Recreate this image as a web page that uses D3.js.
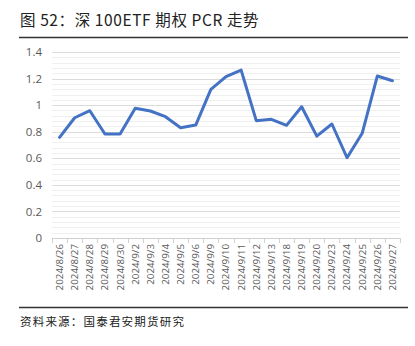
<!DOCTYPE html>
<html><head><meta charset="utf-8">
<script src="https://cdn.jsdelivr.net/npm/d3@7/dist/d3.min.js"></script>
<style>
html,body{margin:0;padding:0;background:#fff;}
svg{display:block;}
</style></head>
<body>
<svg id="c" width="415" height="346"></svg>
<script>
const categories = ["2024/8/26","2024/8/27","2024/8/28","2024/8/29","2024/8/30","2024/9/2","2024/9/3","2024/9/4","2024/9/5","2024/9/6","2024/9/9","2024/9/10","2024/9/11","2024/9/12","2024/9/13","2024/9/18","2024/9/19","2024/9/20","2024/9/23","2024/9/24","2024/9/25","2024/9/26","2024/9/27"];
const pcrValues = [0.758,0.905,0.958,0.783,0.783,0.976,0.956,0.913,0.830,0.850,1.119,1.214,1.264,0.883,0.893,0.848,0.988,0.767,0.858,0.604,0.788,1.219,1.184];
const yTicks = [0,0.2,0.4,0.6,0.8,1,1.2,1.4];
const titleText = "图 52：深 100ETF 期权 PCR 走势";
const sourceText = "资料来源：国泰君安期货研究";

const svg = d3.select("#c");
const m = {l:52, r:15, t:52, b:108};
const x = d3.scaleBand().domain(categories).range([m.l, 400]).padding(0);
const y = d3.scaleLinear().domain([0,1.4]).range([238, 52]);

// title
svg.append("text").attr("x",20).attr("y",26).text(titleText)
  .attr("font-family","'Noto Sans CJK SC', sans-serif").attr("font-size",15.5)
  .attr("letter-spacing",0.6).attr("fill","#222");
svg.append("line").attr("x1",19).attr("x2",408).attr("y1",37.5).attr("y2",37.5)
  .attr("stroke","#333").attr("stroke-width",1.5);

// minor gridlines
const minor = d3.range(0, 1.4001, 0.04).filter(v => Math.abs(v*5 - Math.round(v*5)) > 1e-6);
svg.append("g").selectAll("line").data(minor).join("line")
  .attr("x1", m.l).attr("x2", 400)
  .attr("y1", d => Math.round(y(d))+0.5).attr("y2", d => Math.round(y(d))+0.5)
  .attr("stroke","#f0f0f0").attr("stroke-width",1);
// major gridlines
svg.append("g").selectAll("line").data(yTicks.slice(1)).join("line")
  .attr("x1", m.l).attr("x2", 400)
  .attr("y1", d => Math.round(y(d))+0.5).attr("y2", d => Math.round(y(d))+0.5)
  .attr("stroke","#dcdcdc").attr("stroke-width",1);

// y axis labels
const yAxis = d3.axisLeft(y).tickValues(yTicks).tickSize(0).tickPadding(10).tickFormat(d3.format("~g"));
const gy = svg.append("g").attr("transform",`translate(${m.l},0)`).call(yAxis);
gy.select(".domain").remove();
gy.selectAll("text").attr("font-family","'Open Sans', 'Noto Sans', sans-serif").attr("font-size",11.5).attr("fill","#595959");

// x axis
const xAxis = d3.axisBottom(x).tickSize(0).tickPadding(0);
const gx = svg.append("g").attr("transform","translate(0,238)").call(xAxis);
gx.select(".domain").attr("stroke","#d0d0d0").attr("d", `M${m.l},0.5H400`);
gx.selectAll(".tick text")
  .attr("font-family","'Open Sans', 'Noto Sans', sans-serif").attr("font-size",9.8).attr("fill","#595959")
  .attr("transform","rotate(-90)").attr("text-anchor","end").attr("dy","0.35em").attr("x",-6).attr("y",0);
// boundary ticks
const bounds = categories.map(c => x(c)).concat([x(categories[categories.length-1]) + x.bandwidth()]);
svg.append("g").selectAll("line").data(bounds).join("line")
  .attr("x1", d => Math.round(d)+0.5).attr("x2", d => Math.round(d)+0.5)
  .attr("y1", 238).attr("y2", 243).attr("stroke","#d0d0d0");

// line
const line = d3.line().x((d,i) => x(categories[i]) + x.bandwidth()/2).y(d => y(d));
svg.append("path").datum(pcrValues).attr("d", line)
  .attr("fill","none").attr("stroke","#4472C4").attr("stroke-width",3)
  .attr("stroke-linejoin","round").attr("stroke-linecap","round");

// bottom
svg.append("line").attr("x1",19).attr("x2",408).attr("y1",307.5).attr("y2",307.5)
  .attr("stroke","#333").attr("stroke-width",1.5);
svg.append("text").attr("x",20).attr("y",326).text(sourceText)
  .attr("font-family","'Noto Sans CJK SC', sans-serif").attr("font-size",11.5)
  .attr("letter-spacing",1.2).attr("fill","#222");
</script>
</body></html>
